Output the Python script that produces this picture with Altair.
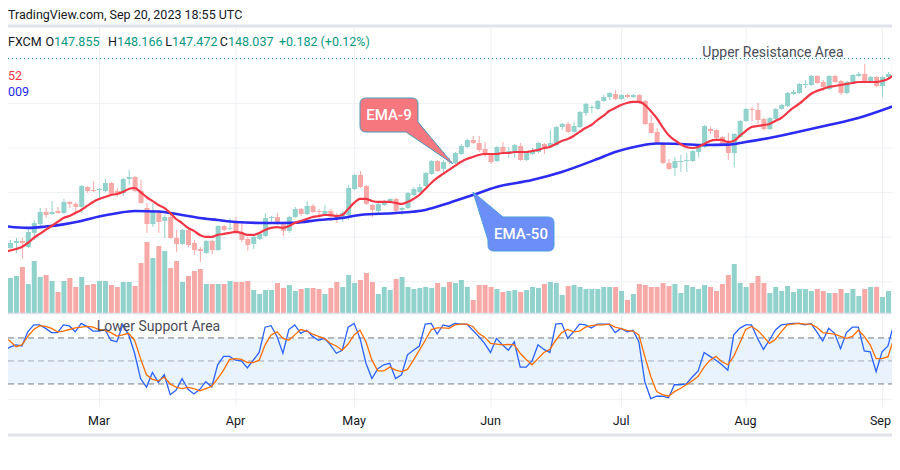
import altair as alt
import pandas as pd

FONT = "Roboto"
GREEN = "#089981"
RED = "#f23645"
VOL_UP = "#92d2cc"
VOL_DN = "#f7a9a7"
EMA9_C = "#f23645"
EMA50_C = "#2b2bf2"
K_C = "#2962ff"
D_C = "#ff6d00"
GRID = "#eef0f4"
SEP = "#e0e3eb"
TXT = "#131722"

# ---------------- data (USDJPY daily, FXCM) ----------------
first_bar = -1
open_ = [132.74, 131.03, 131.48, 131.66, 131.12, 132.38, 133.18, 134.26, 134.08, 134.35,
         134.17, 135.16, 134.98, 134.71, 136.50, 136.23, 136.23, 136.14, 136.86, 136.14,
         135.96, 137.22, 137.40, 136.14, 134.62, 133.18, 134.35, 133.45, 133.81, 131.93,
         131.39, 132.65, 131.48, 130.94, 130.58, 131.66, 130.85, 133.00, 132.74, 133.45,
         132.38, 131.84, 131.39, 131.84, 132.11, 133.72, 133.81, 133.18, 132.56, 133.81,
         134.53, 134.08, 134.80, 134.35, 133.99, 134.35, 133.90, 133.81, 133.99, 136.32,
         137.58, 136.59, 134.89, 134.35, 134.89, 135.25, 135.43, 134.44, 134.62, 135.78,
         136.05, 136.59, 137.67, 138.83, 138.12, 138.83, 138.65, 139.46, 140.09, 140.72,
         140.45, 139.91, 139.46, 138.83, 140.09, 139.55, 139.64, 140.18, 138.92, 139.46,
         139.64, 140.36, 140.18, 140.27, 141.88, 142.15, 141.44, 141.88, 143.14, 143.59,
         143.50, 144.22, 144.57, 144.84, 144.40, 144.75, 144.57, 144.75, 144.22, 142.24,
         141.44, 140.45, 138.65, 138.21, 138.74, 138.83, 138.83, 139.64, 140.09, 141.70,
         141.61, 140.99, 140.63, 139.55, 140.99, 142.42, 143.50, 143.41, 142.60, 141.70,
         142.60, 143.50, 143.77, 144.84, 144.93, 145.65, 145.65, 146.46, 145.92, 145.29,
         146.46, 146.01, 144.93, 145.92, 146.46, 146.64, 145.92, 146.37, 145.56, 146.37,
         146.64]
high = [132.91, 131.75, 131.93, 131.93, 132.91, 133.54, 134.62, 134.62, 135.25, 134.71,
        135.43, 135.25, 135.16, 136.68, 136.59, 137.04, 136.41, 137.22, 136.95, 136.41,
        137.31, 138.03, 137.49, 137.13, 135.07, 135.07, 134.44, 133.99, 134.17, 132.65,
        132.74, 132.91, 131.75, 131.12, 131.75, 131.75, 133.09, 133.09, 133.72, 133.81,
        133.27, 132.02, 132.11, 132.38, 134.17, 133.90, 134.17, 133.36, 133.90, 134.71,
        134.62, 135.25, 134.98, 134.53, 134.89, 134.53, 134.17, 134.35, 136.68, 137.67,
        137.94, 136.68, 134.98, 135.07, 135.34, 135.51, 135.51, 134.71, 136.05, 136.50,
        136.77, 137.85, 138.92, 138.92, 138.92, 139.10, 139.64, 140.36, 140.81, 141.08,
        141.08, 140.54, 139.55, 140.18, 140.54, 140.09, 140.36, 140.45, 139.64, 140.00,
        140.54, 140.45, 141.61, 141.97, 142.24, 142.33, 142.33, 143.32, 144.04, 143.86,
        144.31, 144.75, 145.02, 145.20, 144.84, 144.84, 144.84, 144.84, 144.31, 142.96,
        141.79, 140.54, 139.01, 139.19, 139.37, 139.55, 139.82, 140.27, 142.06, 141.88,
        141.70, 141.08, 141.35, 141.35, 142.51, 143.59, 143.68, 144.04, 142.69, 142.78,
        143.59, 143.95, 145.02, 145.20, 145.83, 146.10, 146.55, 146.55, 146.10, 146.55,
        146.55, 146.10, 146.01, 146.64, 146.82, 147.53, 146.46, 146.46, 146.46, 146.82,
        147.89]
low = [130.94, 130.94, 130.58, 130.04, 131.03, 131.75, 133.00, 133.72, 133.99, 134.08,
       134.08, 134.62, 134.17, 134.17, 135.96, 136.05, 135.43, 136.05, 135.78, 135.60,
       135.69, 136.68, 136.05, 135.00, 132.38, 132.91, 132.38, 131.93, 131.84, 130.67,
       131.30, 131.12, 130.40, 129.77, 130.50, 130.49, 130.76, 132.56, 132.65, 132.29,
       131.57, 130.76, 130.94, 131.75, 132.02, 133.27, 133.09, 132.11, 132.38, 133.72,
       133.90, 133.99, 134.17, 133.72, 133.90, 133.45, 133.27, 133.36, 133.54, 136.23,
       136.41, 134.89, 133.81, 133.99, 134.80, 135.07, 134.26, 133.99, 134.53, 135.69,
       135.96, 136.50, 137.58, 137.85, 137.58, 138.56, 138.56, 139.37, 140.00, 140.36,
       139.64, 139.19, 138.56, 138.74, 139.55, 139.10, 139.10, 138.83, 138.83, 139.37,
       139.55, 139.46, 140.09, 140.18, 141.61, 141.35, 141.35, 141.79, 142.87, 143.14,
       143.41, 144.13, 144.31, 144.31, 144.31, 144.49, 144.49, 143.95, 142.06, 141.30,
       140.27, 138.56, 138.03, 137.49, 137.85, 137.85, 138.74, 139.19, 140.00, 141.26,
       140.81, 140.18, 138.92, 138.30, 140.90, 142.33, 142.42, 142.15, 141.61, 141.61,
       142.51, 143.41, 143.68, 144.75, 144.84, 145.38, 145.56, 145.74, 145.11, 145.20,
       145.83, 144.75, 144.84, 145.83, 146.37, 145.83, 145.83, 145.47, 144.57, 146.28,
       146.55]
close = [131.12, 131.48, 131.66, 131.48, 132.47, 133.27, 134.26, 133.99, 134.26, 134.17,
         135.16, 134.98, 134.71, 136.59, 136.14, 136.14, 136.32, 136.86, 135.87, 135.96,
         137.22, 137.40, 136.14, 135.07, 133.18, 134.35, 133.36, 133.81, 131.93, 131.39,
         132.65, 131.30, 130.85, 130.76, 131.66, 130.85, 133.00, 132.65, 132.83, 132.38,
         131.75, 131.30, 132.02, 132.29, 133.72, 133.81, 133.18, 132.56, 133.81, 134.53,
         134.08, 134.80, 134.26, 134.26, 134.35, 133.81, 133.72, 134.17, 136.41, 137.58,
         136.50, 134.98, 134.44, 134.98, 135.25, 135.43, 134.35, 134.62, 135.96, 136.32,
         136.50, 137.76, 138.83, 137.94, 138.74, 138.74, 139.55, 140.18, 140.72, 140.45,
         139.82, 139.37, 138.74, 140.09, 139.64, 139.73, 140.27, 138.92, 139.55, 139.73,
         140.45, 140.09, 140.45, 141.88, 142.15, 141.44, 141.97, 143.23, 143.95, 143.68,
         144.22, 144.57, 144.93, 144.40, 144.75, 144.57, 144.75, 144.13, 142.15, 141.35,
         140.36, 138.65, 138.12, 138.83, 138.83, 138.92, 139.73, 140.18, 141.97, 141.52,
         140.90, 140.36, 139.55, 141.26, 142.42, 143.50, 143.41, 142.51, 141.70, 142.69,
         143.50, 143.86, 144.93, 145.02, 145.74, 145.74, 146.46, 145.83, 145.47, 146.46,
         145.92, 144.93, 145.92, 146.55, 146.64, 145.92, 146.37, 145.56, 146.37, 146.64,
         147.80]
volume = [46, 35, 37, 46, 29, 52, 36, 38, 32, 21,
          32, 35, 26, 36, 28, 29, 32, 32, 28, 26,
          31, 31, 27, 50, 71, 55, 67, 62, 45, 52,
          31, 37, 42, 44, 29, 29, 29, 29, 32, 31,
          31, 32, 23, 19, 23, 23, 30, 25, 28, 22,
          24, 25, 25, 24, 19, 25, 31, 26, 38, 30,
          33, 40, 31, 19, 26, 23, 34, 36, 26, 24,
          25, 26, 25, 30, 26, 31, 30, 33, 26, 13,
          28, 28, 26, 24, 21, 22, 23, 21, 23, 26,
          25, 29, 31, 30, 18, 27, 28, 26, 24, 24,
          24, 26, 26, 26, 22, 13, 19, 29, 28, 26,
          26, 30, 27, 29, 20, 28, 26, 24, 28, 26,
          22, 29, 38, 49, 30, 26, 30, 37, 30, 20,
          26, 22, 27, 21, 24, 24, 22, 24, 22, 20,
          20, 24, 20, 24, 17, 24, 26, 26, 16, 22,
          26]
ema9 = [130.67, 130.80, 130.94, 131.12, 131.48, 131.93, 132.29, 132.65, 133.00, 133.36,
        133.72, 133.90, 134.17, 134.44, 134.80, 135.16, 135.43, 135.60, 135.78, 135.87,
        136.05, 136.32, 136.41, 136.05, 135.60, 135.25, 134.89, 134.62, 134.17, 133.63,
        133.27, 132.83, 132.56, 132.20, 132.02, 132.02, 132.20, 132.29, 132.38, 132.47,
        132.38, 132.20, 132.20, 132.38, 132.65, 132.83, 132.91, 132.83, 133.00, 133.27,
        133.45, 133.63, 133.81, 133.90, 133.99, 133.99, 133.90, 133.99, 134.53, 135.07,
        135.43, 135.43, 135.25, 135.16, 135.16, 135.16, 135.07, 134.98, 135.16, 135.43,
        135.78, 136.32, 136.86, 137.31, 137.67, 138.03, 138.39, 138.74, 139.01, 139.19,
        139.37, 139.46, 139.46, 139.46, 139.55, 139.55, 139.64, 139.64, 139.64, 139.73,
        139.82, 140.00, 140.09, 140.36, 140.63, 140.81, 141.08, 141.44, 141.79, 142.06,
        142.51, 142.87, 143.32, 143.59, 143.86, 144.04, 144.13, 144.13, 143.86, 143.32,
        142.69, 141.88, 141.17, 140.72, 140.36, 140.09, 140.00, 140.09, 140.36, 140.63,
        140.72, 140.72, 140.54, 140.63, 141.08, 141.52, 141.88, 141.97, 142.06, 142.15,
        142.42, 142.69, 143.14, 143.59, 143.95, 144.40, 144.84, 145.11, 145.29, 145.47,
        145.56, 145.65, 145.74, 145.83, 145.92, 145.92, 145.92, 145.92, 146.01, 146.19,
        146.55]
ema50_bar = [-1, 3, 6, 9, 12, 15, 18, 21, 25, 29, 32, 35, 38, 43, 48, 52, 56, 59, 65, 70,
             74, 78, 82, 88, 93, 99, 102, 106, 109, 113, 117, 121, 124, 128, 132, 138, 143, 149]
ema50_val = [133.00, 132.83, 132.95, 133.15, 133.45, 133.85, 134.15, 134.35, 134.30, 133.99,
             133.72, 133.54, 133.36, 133.27, 133.30, 133.54, 133.72, 133.99, 134.17, 134.44,
             135.07, 135.78, 136.50, 137.13, 137.85, 139.01, 139.64, 140.18, 140.40, 140.36,
             140.27, 140.30, 140.54, 140.90, 141.35, 142.06, 142.69, 143.77]
stoch_k = [64, 68, 71, 69.5, 88, 97, 97, 92.5, 87, 87,
           97, 95.6, 88, 99, 94.7, 89, 89, 91, 77, 75,
           97, 84, 60, 27, 16, 35, 22, 32, 6, 12,
           27, 13, 7, 13, 23, 16, 45, 56, 56, 51,
           50, 41, 51, 61, 94, 96, 82, 60, 91, 97,
           86, 90, 82, 77, 79.5, 71, 60, 64, 94, 99,
           79.5, 47, 27, 40, 45, 47, 27, 32, 58, 64,
           69.5, 98, 99, 85, 97, 95, 99, 98, 98, 90,
           82, 73, 61, 79.5, 71, 64, 75, 42, 42, 50,
           71, 65, 61, 98, 99, 79.5, 88, 98, 97, 93,
           98, 98, 98, 87, 92.5, 88, 90, 75, 23, 1,
           4, 4, 2, 19, 19, 20, 29, 37, 61, 56,
           51, 45, 38, 84, 92.5, 97, 97, 79.5, 65, 77,
           90, 97, 98, 99, 99, 97, 99, 88, 76, 92.5,
           86, 66, 87, 94, 94, 63, 62, 36, 62, 69.5,
           99]
stoch_d = [81, 76, 68.6, 71, 82, 91, 96, 95, 92.5, 88,
           89, 91, 93, 94, 95, 94, 91, 90, 87, 82.5,
           84, 86, 77, 53, 32, 26, 24, 29, 20, 16,
           14, 15.6, 14, 11, 14, 17, 27, 38, 52, 53,
           52, 48, 48, 51, 71, 84, 88, 79.5, 77, 84,
           91, 89, 85, 82, 79.5, 73, 69.5, 64, 72, 84,
           90, 75, 51, 37, 37, 42, 38, 36, 39, 51,
           64, 77, 91, 93, 93, 92.5, 97, 98, 98, 95,
           86, 81, 73, 72, 71, 71.5, 71, 60, 52, 45,
           53, 61, 65, 77, 87, 91, 88, 89, 94, 96,
           97, 97, 98, 94, 92, 90, 89, 84, 56, 30,
           10, 6, 4, 10, 14, 19, 24, 30, 42, 51,
           56, 49, 45, 56, 73, 91, 95, 90, 82, 73,
           78, 88, 97, 98, 99, 98, 98, 94, 87, 86,
           85, 82, 79.5, 82, 90, 82, 71, 53, 53, 55.6,
           79.5]
month_bar = [15, 38, 58, 81, 103, 124, 147]
month_name = ["Mar", "Apr", "May", "Jun", "Jul", "Aug", "Sep"]
price_grid = [128, 132, 136, 140, 144, 148]
stoch_grid = [0, 40]
last_price = 148.037
legend_letters = ["O", "H", "L", "C"]
legend_values = ["147.855", "148.166", "147.472", "148.037"]
legend_change = "+0.182 (+0.12%)"

# ---------------- layout ----------------
W, H = 884, 410
value_x = [54, 117, 172, 228]   # page px where each value starts
change_x = 279

bars_idx = list(range(first_bar, first_bar + len(open_)))
bars = pd.DataFrame({"i": bars_idx, "open": open_, "high": high, "low": low,
                     "close": close, "volume": volume, "ema9": ema9,
                     "k": stoch_k, "d": stoch_d})
bars["dir"] = ["up" if c >= o else "down" for o, c in zip(open_, close)]
ema50 = pd.DataFrame({"i": ema50_bar, "v": ema50_val})
months = pd.DataFrame({"i": month_bar, "m": month_name})

xs = alt.Scale(domain=[0.5, 147.8333], nice=False, zero=False)
X = alt.X("i:Q", scale=xs, axis=None)
price_s = alt.Scale(domain=[125.198, 150.763], range=[285, 0], nice=False, zero=False)
vol_s = alt.Scale(domain=[0, 100], range=[285, 185], nice=False)
stoch_s = alt.Scale(domain=[0, 100], range=[371.3, 294.6], nice=False, zero=False)
cand_col = alt.Color("dir:N", scale=alt.Scale(domain=["up", "down"], range=[GREEN, RED]), legend=None)
vol_col = alt.Color("dir:N", scale=alt.Scale(domain=["up", "down"], range=[VOL_UP, VOL_DN]), legend=None)

one = pd.DataFrame({"a": [0]})


def hline(py, color, width=1, dash=None):
    kw = dict(color=color, strokeWidth=width)
    if dash:
        kw["strokeDash"] = dash
    return alt.Chart(one).mark_rule(**kw).encode(
        x=alt.value(0), x2=alt.value(W), y=alt.value(py))


def label(text, px, py, size, color, align="left", weight="normal"):
    return alt.Chart(pd.DataFrame({"t": [text]})).mark_text(
        align=align, baseline="middle", fontSize=size, font=FONT, color=color,
        fontWeight=weight).encode(x=alt.value(px), y=alt.value(py), text="t:N")


def callout(cmds, cx, cy, s, fill, stroke):
    parts = []
    for cmd in cmds:
        op, nums = cmd[0], cmd[1:]
        pts = []
        for k in range(0, len(nums), 2):
            pts.append(f"{(nums[k] - 8 - cx) / s:.4f},{(nums[k + 1] - 28 - cy) / s:.4f}")
        parts.append(op + " ".join(pts))
    path = " ".join(parts)
    return alt.Chart(one).mark_point(
        shape=path, size=(2 * s) ** 2, filled=True, fill=fill, stroke=stroke,
        strokeWidth=1, opacity=1).encode(x=alt.value(cx), y=alt.value(cy))


layers = []
# stoch band
band = pd.DataFrame({"hi": [80], "lo": [20]})
layers.append(alt.Chart(band).mark_rect(color="#e8f3fd").encode(
    x=alt.value(0), x2=alt.value(W),
    y=alt.Y("hi:Q", scale=stoch_s, axis=None), y2="lo:Q"))
# grids
layers.append(alt.Chart(pd.DataFrame({"p": price_grid})).mark_rule(color=GRID).encode(
    x=alt.value(0), x2=alt.value(W), y=alt.Y("p:Q", scale=price_s, axis=None)))
layers.append(alt.Chart(pd.DataFrame({"p": stoch_grid})).mark_rule(color=GRID).encode(
    x=alt.value(0), x2=alt.value(W), y=alt.Y("p:Q", scale=stoch_s, axis=None)))
layers.append(alt.Chart(months).mark_rule(color=GRID, xOffset=0.5).encode(
    x=X, y=alt.value(0), y2=alt.value(379)))
# volume
layers.append(alt.Chart(bars).mark_bar(size=5, clip=True, xOffset=0.5).encode(
    x=X, y=alt.Y("volume:Q", scale=vol_s, axis=None), color=vol_col))
# last price dotted line
layers.append(alt.Chart(pd.DataFrame({"p": [last_price]})).mark_rule(
    color=GREEN, strokeDash=[1, 3], strokeWidth=1).encode(
    x=alt.value(0), x2=alt.value(W), y=alt.Y("p:Q", scale=price_s, axis=None)))
# candles
layers.append(alt.Chart(bars).mark_rule(strokeWidth=1, clip=True, xOffset=0.5).encode(
    x=X, y=alt.Y("high:Q", scale=price_s, axis=None), y2="low:Q", color=cand_col))
layers.append(alt.Chart(bars).mark_bar(size=5, clip=True, xOffset=0.5).encode(
    x=X, y=alt.Y("open:Q", scale=price_s, axis=None), y2="close:Q", color=cand_col))
# EMAs
layers.append(alt.Chart(ema50).mark_line(color=EMA50_C, strokeWidth=2.6, interpolate="monotone",
                                         clip=True).encode(
    x=X, y=alt.Y("v:Q", scale=price_s, axis=None)))
layers.append(alt.Chart(bars).mark_line(color=EMA9_C, strokeWidth=2.2, interpolate="monotone",
                                        clip=True).encode(
    x=X, y=alt.Y("ema9:Q", scale=price_s, axis=None)))
# stoch levels
lv = pd.DataFrame({"p": [80, 20]})
layers.append(alt.Chart(lv).mark_rule(color="#787b86", strokeDash=[6, 4]).encode(
    x=alt.value(0), x2=alt.value(W), y=alt.Y("p:Q", scale=stoch_s, axis=None)))
layers.append(alt.Chart(pd.DataFrame({"p": [50]})).mark_rule(color="#a9acb5", strokeDash=[6, 4]).encode(
    x=alt.value(0), x2=alt.value(W), y=alt.Y("p:Q", scale=stoch_s, axis=None)))
layers.append(alt.Chart(bars).mark_line(color=K_C, strokeWidth=1.3, clip=True).encode(
    x=X, y=alt.Y("k:Q", scale=stoch_s, axis=None)))
layers.append(alt.Chart(bars).mark_line(color=D_C, strokeWidth=1.3, clip=True).encode(
    x=X, y=alt.Y("d:Q", scale=stoch_s, axis=None)))
# separators
layers.append(hline(-2, SEP, 3))
layers.append(hline(285.5, SEP, 1.5))
layers.append(hline(407, SEP, 3))
# month labels (the last one is kept inside the right edge)
layers.append(alt.Chart(months.iloc[:-1]).mark_text(
    fontSize=12.5, font=FONT, color=TXT, baseline="middle", align="center").encode(
    x=X, y=alt.value(393), text="m:N"))
layers.append(alt.Chart(months.iloc[-1:]).mark_text(
    fontSize=12.5, font=FONT, color=TXT, baseline="middle", align="right").encode(
    x=alt.value(W - 1), y=alt.value(393), text="m:N"))
# header texts
layers.append(label("TradingView.com, Sep 20, 2023 18:55 UTC", 0, -13, 12.5, TXT))
layers.append(label("FXCM", 0, 14, 12.5, TXT))
for letter, val, vx in zip(legend_letters, legend_values, value_x):
    layers.append(label(letter, vx - 8, 14, 12.5, TXT, align="right"))
    layers.append(label(val, vx - 8, 14, 12.5, GREEN))
layers.append(label(legend_change, change_x - 8, 14, 12.5, GREEN))
layers.append(label("52", 0, 48, 12.5, EMA9_C))
layers.append(label("009", 0, 64, 12.5, EMA50_C))
layers.append(label("Upper Resistance Area", 765, 25, 14, "#4a4d57", align="center"))
layers.append(label("Lower Support Area", 150.5, 299, 14, "#4a4d57", align="center"))
# callouts
ema9_path = [("M", 366, 98), ("L", 412, 98), ("Q", 418, 98, 418, 104), ("L", 418, 122),
             ("L", 453, 164), ("L", 406, 132), ("L", 366, 132), ("Q", 360, 132, 360, 126),
             ("L", 360, 104), ("Q", 360, 98, 366, 98), ("Z",)]
ema50_path = [("M", 503, 217), ("L", 548, 217), ("Q", 554, 217, 554, 223), ("L", 554, 245),
              ("Q", 554, 251, 548, 251), ("L", 494, 251), ("Q", 488, 251, 488, 245),
              ("L", 488, 240), ("L", 473, 192), ("Z",)]
layers.append(callout(ema9_path, 398, 104, 60, "#f6777d", "#4a9fc4"))
layers.append(callout(ema50_path, 506, 193, 60, "#6c8ef7", "#4a9ee0"))
layers.append(label("EMA-9", 381, 87, 15, "white", align="center", weight=500))
layers.append(label("EMA-50", 513, 206, 15, "white", align="center", weight=500))

chart = alt.layer(*layers).resolve_scale(y="independent").properties(
    width=W, height=H,
    padding={"left": 0, "top": 20, "right": 0, "bottom": 10},
    autosize=alt.AutoSizeParams(type="none"),
    background="white",
).configure_view(strokeWidth=0)

chart.save("out.html", embed_options={"renderer": "svg", "actions": False})
